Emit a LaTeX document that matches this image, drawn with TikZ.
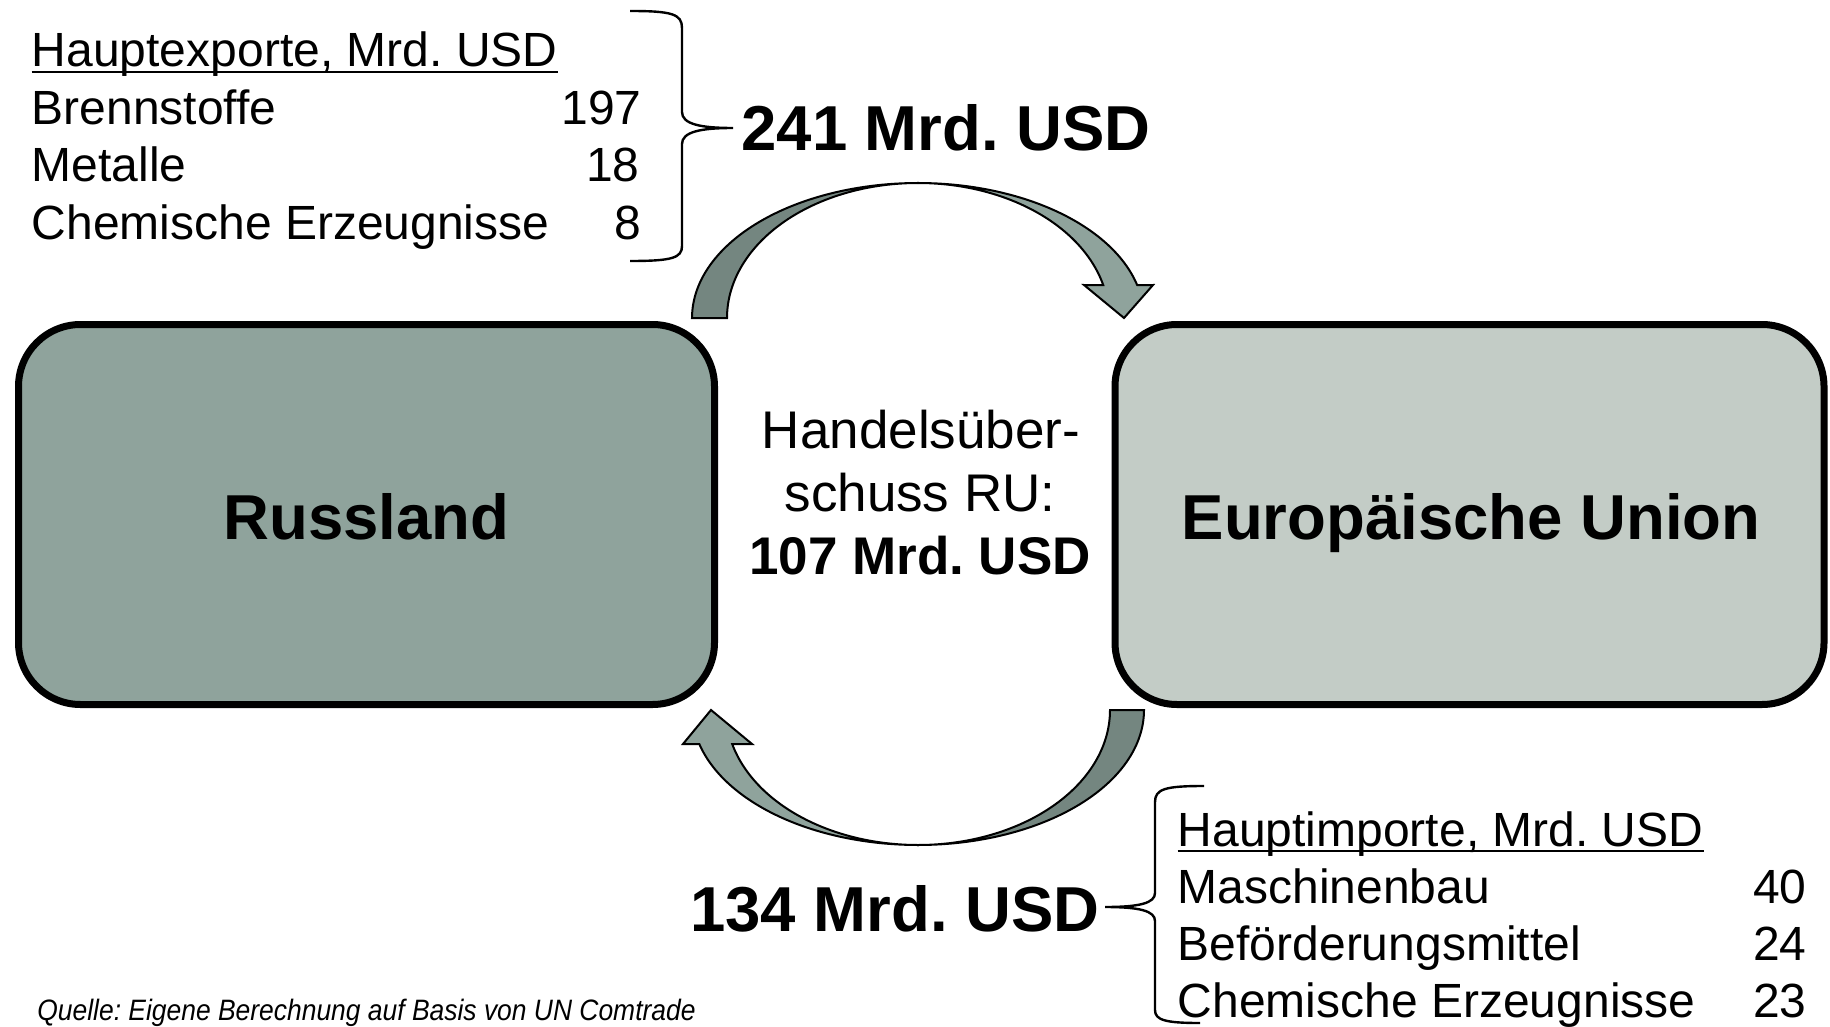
\documentclass[tikz,border=0pt]{standalone}
\usepackage{fontspec}
\setmainfont{Liberation Sans}
\definecolor{boxru}{HTML}{8FA39C}
\definecolor{boxeu}{HTML}{C3CCC6}
\definecolor{arrdark}{HTML}{748680}
\definecolor{arrlight}{HTML}{8FA39C}
\begin{document}
\frenchspacing
\begin{tikzpicture}[x=0.5pt,y=-0.5pt,
  country/.style={draw=black, line width=3.5pt, rounded corners=31pt, minimum width=348pt, minimum height=190pt, inner sep=0pt},
  bigtxt/.style={inner sep=0pt, font=\fontsize{31.75pt}{38pt}\selectfont\bfseries},
  midtxt/.style={inner sep=0pt, font=\fontsize{26.5pt}{32pt}\selectfont},
  midbold/.style={inner sep=0pt, font=\fontsize{26.5pt}{32pt}\selectfont\bfseries},
  listtxt/.style={inner sep=0pt, font=\fontsize{24pt}{29pt}\selectfont},
  srctxt/.style={inner sep=0pt, font=\fontsize{14.75pt}{18pt}\selectfont\itshape},
  brace/.style={draw=black, line width=1.2pt},
  flow/.style={draw=black, line width=1pt, line join=miter},
  uline/.style={draw=black, line width=1.2pt}]
\useasboundingbox (0,0) rectangle (1830,1027);

% boxes
\node[country, fill=boxru] (ru) at (366.5,514.5) {};
\node[country, fill=boxeu, minimum width=354.5pt] (eu) at (1469.5,514.5) {};
\node[bigtxt, anchor=base] (rut) at (366.5,539) {Russland};
\node[bigtxt, anchor=base] (eut) at (1471,539) {Europäische Union};

% centre text
\node[midtxt, anchor=base] (c1) at (921,448.5) {Handelsüber-};
\node[midtxt, anchor=base] (c2) at (920,511.5) {schuss RU:};
\node[midbold, anchor=base] (c3) at (920,574.5) {107 Mrd. USD};

% top arrow (Russland -> EU)
\filldraw[flow, fill=arrdark] plot[domain=180:270, samples=60] ({918+226*cos(\x)},{318+135*sin(\x)})
  -- plot[domain=270:180, samples=60] ({918+191*cos(\x)},{318+135*sin(\x)}) -- cycle;
\coordinate (toptip) at (1124,318);
\filldraw[flow, fill=arrlight] plot[domain=270:345.9, samples=60] ({918+226*cos(\x)},{318+135*sin(\x)})
  -- (1153,285) -- (toptip) -- (1084,285)
  -- plot[domain=345.9:270, samples=60] ({918+191*cos(\x)},{318+135*sin(\x)}) -- cycle;

% bottom arrow (EU -> Russland)
\filldraw[flow, fill=arrdark] plot[domain=0:90, samples=60] ({918+226*cos(\x)},{710+135*sin(\x)})
  -- plot[domain=90:0, samples=60] ({918+192*cos(\x)},{710+135*sin(\x)}) -- cycle;
\coordinate (bottip) at (711,710);
\filldraw[flow, fill=arrlight] plot[domain=90:165.4, samples=60] ({918+226*cos(\x)},{710+135*sin(\x)})
  -- (683,744) -- (bottip) -- (752,744)
  -- plot[domain=165.4:90, samples=60] ({918+192*cos(\x)},{710+135*sin(\x)}) -- cycle;

% export amount and brace
\node[bigtxt, anchor=base west] (exv) at (741,151) {241 Mrd. USD};
\coordinate (extip) at (733,128);
\draw[brace] (630,11) .. controls (672,11) and (682,14) .. (682,28) -- (682,112)
  .. controls (682,124) and (700,128) .. (extip)
  .. controls (700,128) and (682,132) .. (682,144) -- (682,246)
  .. controls (682,258) and (672,261) .. (630,261);

% export list
\node[listtxt, anchor=base west] (ex0) at (31.5,67) {Hauptexporte, Mrd. USD};
\draw[uline] ([yshift=-2.5pt]ex0.base west) -- ([yshift=-2.5pt]ex0.base east);
\node[listtxt, anchor=base west] (ex1) at (31.5,124.5) {Brennstoffe};
\node[listtxt, anchor=base west] (ex2) at (31.5,182) {Metalle};
\node[listtxt, anchor=base west] (ex3) at (31.5,240) {Chemische Erzeugnisse};
\node[listtxt, anchor=base east] (exn1) at (642,124.5) {197};
\node[listtxt, anchor=base east] (exn2) at (640,182) {18};
\node[listtxt, anchor=base east] (exn3) at (642,240) {8};

% import amount and brace
\node[bigtxt, anchor=base east] (imv) at (1100,931) {134 Mrd. USD};
\coordinate (imtip) at (1105,907);
\draw[brace] (1204,786) .. controls (1165,786) and (1155,789) .. (1155,802) -- (1155,893)
  .. controls (1155,903) and (1140,907) .. (imtip)
  .. controls (1140,907) and (1155,911) .. (1155,921) -- (1155,1010)
  .. controls (1155,1020) and (1165,1023) .. (1200,1023);

% import list
\node[listtxt, anchor=base west] (im0) at (1177.5,846) {Hauptimporte, Mrd. USD};
\draw[uline] ([yshift=-2.5pt]im0.base west) -- ([yshift=-2.5pt]im0.base east);
\node[listtxt, anchor=base west] (im1) at (1177.5,903) {Maschinenbau};
\node[listtxt, anchor=base west] (im2) at (1177.5,960) {Beförderungsmittel};
\node[listtxt, anchor=base west] (im3) at (1177.5,1017) {Chemische Erzeugnisse};
\node[listtxt, anchor=base east] (imn1) at (1807,903) {40};
\node[listtxt, anchor=base east] (imn2) at (1807,960) {24};
\node[listtxt, anchor=base east] (imn3) at (1807,1017) {23};

% source
\node[srctxt, anchor=base west] (src) at (37,1020) {\scalebox{0.896}[1]{Quelle: Eigene Berechnung auf Basis von UN Comtrade}};
\end{tikzpicture}
\end{document}
